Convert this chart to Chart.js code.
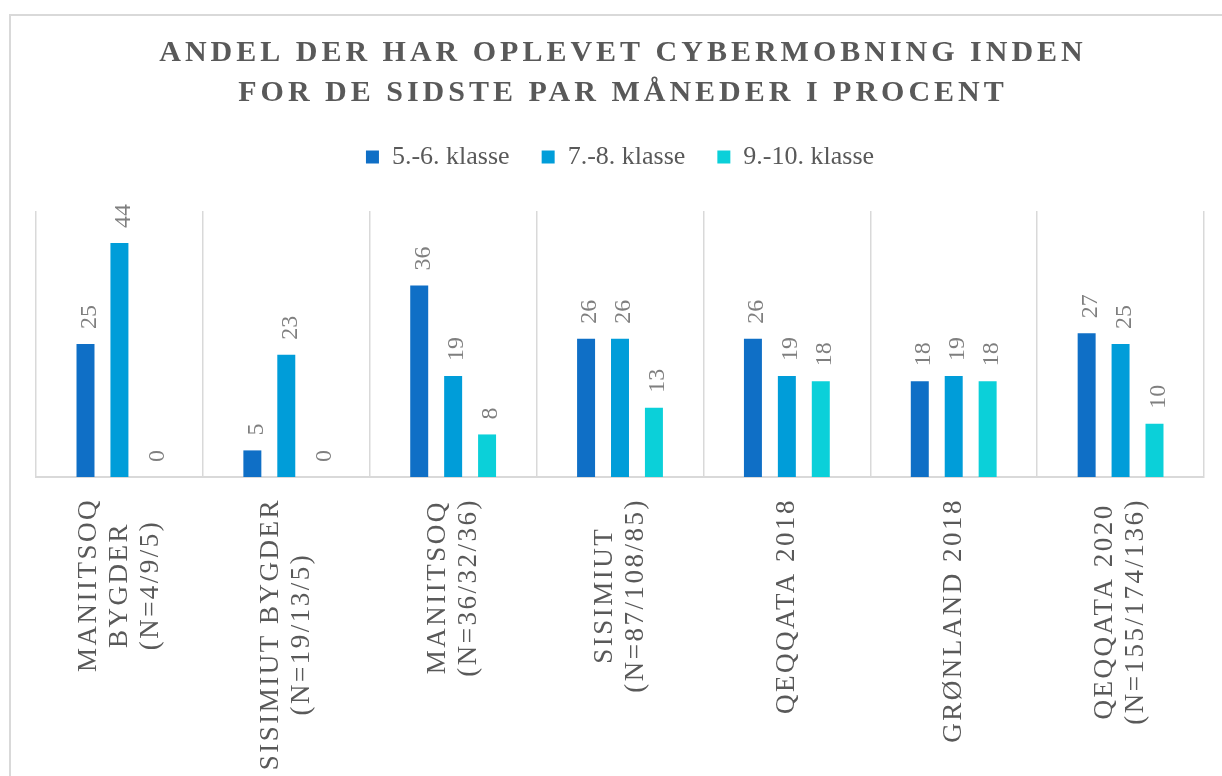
<!DOCTYPE html>
<html><head><meta charset="utf-8">
<script src="https://cdn.jsdelivr.net/npm/chart.js@4"></script>
<style>html,body{margin:0;padding:0;background:#fff;}#wrap{width:1222px;height:776px;position:relative;}</style>
</head><body><div id="wrap"><canvas id="c" width="1222" height="776"></canvas></div>
<script>
const titleLines = ['ANDEL DER HAR OPLEVET CYBERMOBNING INDEN', 'FOR DE SIDSTE PAR MÅNEDER I PROCENT'];
const categories = [
  ['MANIITSOQ', 'BYGDER', '(N=4/9/5)'],
  ['SISIMIUT BYGDER', '(N=19/13/5)'],
  ['MANIITSOQ', '(N=36/32/36)'],
  ['SISIMIUT', '(N=87/108/85)'],
  ['QEQQATA 2018'],
  ['GRØNLAND 2018'],
  ['QEQQATA 2020', '(N=155/174/136)']
];
const seriesNames = ['5.-6. klasse', '7.-8. klasse', '9.-10. klasse'];
const grade56 = [25, 5, 36, 26, 26, 18, 27];
const grade78 = [44, 23, 19, 26, 19, 19, 25];
const grade910 = [0, 0, 8, 13, 18, 18, 10];
const seriesColors = ['#0F6FC6', '#009DD9', '#0BD0D9'];
const yMin = 0, yMax = 50;

const SERIF = '"Liberation Serif", "DejaVu Serif", serif';

const framePlugin = {
  id: 'frame',
  beforeDraw(chart) {
    const ctx = chart.ctx;
    ctx.save();
    ctx.fillStyle = '#fff';
    ctx.fillRect(0, 0, chart.width, chart.height);
    ctx.strokeStyle = '#D9D9D9';
    ctx.lineWidth = 2;
    ctx.strokeRect(10, 15, chart.width + 20, chart.height + 20);
    ctx.restore();
  }
};

const legendSpacer = {
  id: 'legendSpacer',
  beforeLayout(chart) {
    const lg = chart.legend;
    if (lg && !lg._patched) {
      const f = lg.fit;
      lg.fit = function () { f.call(this); this.height += 31; };
      lg._patched = true;
    }
  }
};

const titlePlugin = {
  id: 'customTitle',
  afterDraw(chart) {
    const ctx = chart.ctx;
    ctx.save();
    ctx.font = 'bold 30px ' + SERIF;
    ctx.letterSpacing = '4px';
    ctx.fillStyle = '#595959';
    ctx.textAlign = 'center';
    ctx.textBaseline = 'middle';
    titleLines.forEach((t, i) => ctx.fillText(t, 623, 53 + i * 40));
    ctx.restore();
  }
};

const valueLabels = {
  id: 'valueLabels',
  afterDatasetsDraw(chart) {
    const ctx = chart.ctx;
    ctx.save();
    ctx.font = '24px ' + SERIF;
    ctx.fillStyle = '#7F7F7F';
    ctx.textAlign = 'left';
    ctx.textBaseline = 'middle';
    chart.data.datasets.forEach((ds, di) => {
      const meta = chart.getDatasetMeta(di);
      meta.data.forEach((el, i) => {
        ctx.save();
        ctx.translate(el.x + 4, el.y - 15);
        ctx.rotate(-Math.PI / 2);
        ctx.fillText(String(ds.data[i]), 0, 0);
        ctx.restore();
      });
    });
    ctx.restore();
  }
};

const categoryLabels = {
  id: 'categoryLabels',
  afterDraw(chart) {
    const ctx = chart.ctx;
    const xs = chart.scales.x;
    ctx.save();
    ctx.font = '27px ' + SERIF;
    ctx.letterSpacing = '2.5px';
    ctx.fillStyle = '#595959';
    ctx.textAlign = 'center';
    ctx.textBaseline = 'middle';
    categories.forEach((lines, i) => {
      const x = xs.getPixelForTick(i);
      const maxW = Math.max(...lines.map(l => ctx.measureText(l).width));
      ctx.save();
      ctx.translate(x, chart.chartArea.bottom + 21);
      ctx.rotate(-Math.PI / 2);
      lines.forEach((l, j) => ctx.fillText(l, -maxW / 2, (j - (lines.length - 1) / 2) * 31));
      ctx.restore();
    });
    ctx.restore();
  }
};

new Chart(document.getElementById('c'), {
  type: 'bar',
  data: {
    labels: categories,
    datasets: [
      { label: seriesNames[0], data: grade56, backgroundColor: seriesColors[0] },
      { label: seriesNames[1], data: grade78, backgroundColor: seriesColors[1] },
      { label: seriesNames[2], data: grade910, backgroundColor: seriesColors[2] }
    ]
  },
  options: {
    responsive: false,
    animation: false,
    events: [],
    categoryPercentage: 0.61,
    barPercentage: 0.53,
    layout: { padding: { top: 112, left: 36, right: 18, bottom: 299 } },
    plugins: {
      title: { display: false },
      tooltip: { enabled: false },
      legend: {
        display: true,
        position: 'top',
        labels: {
          font: { family: SERIF, size: 26 },
          color: '#595959',
          boxWidth: 13,
          boxHeight: 13,
          padding: 32
        }
      }
    },
    scales: {
      x: {
        ticks: { display: false },
        grid: { display: true, offset: true, color: '#D9D9D9', lineWidth: 1.5, drawTicks: false },
        border: { display: true, color: '#D9D9D9', width: 2 }
      },
      y: {
        display: false,
        min: yMin,
        max: yMax
      }
    }
  },
  plugins: [framePlugin, legendSpacer, valueLabels, categoryLabels, titlePlugin]
});
</script></body></html>
